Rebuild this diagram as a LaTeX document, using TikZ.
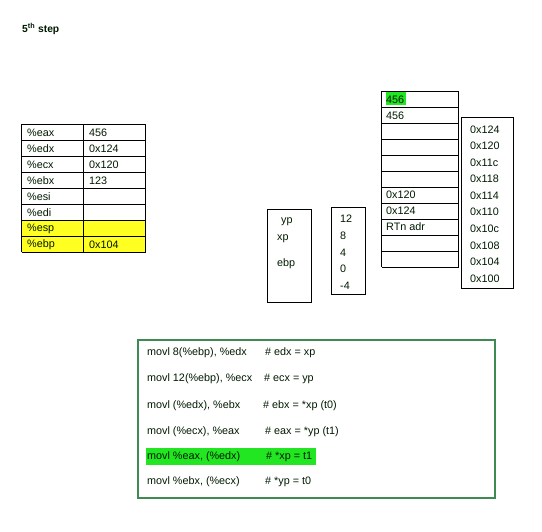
\documentclass[tikz,border=0pt]{standalone}
\usepackage{fontspec}
\setmainfont{Liberation Sans}
\begin{document}
\begin{tikzpicture}[x=1pt,y=-1pt,
  txt/.style={anchor=west,inner sep=0pt,font=\fontsize{10.8}{12}\selectfont,text=black!90!green},
  grid/.style={draw=black,line width=0.8pt},
  codebox/.style={draw=codegreen,line width=2pt}]
\definecolor{codegreen}{HTML}{3E8A52}
\definecolor{hlgreen}{HTML}{22E622}
\definecolor{hlyellow}{HTML}{FFFF22}
\useasboundingbox (0,0) rectangle (542,532);
% title
\node[txt,font=\fontsize{10.3}{12}\selectfont\bfseries] (title) at (22,29) {5\textsuperscript{th} step};
% register table
\fill[hlyellow] (21.5,220.5) rectangle (145.5,252.5);
\foreach \i in {0,...,8} \draw[grid] (21.5,124.5+16*\i) -- (145.5,124.5+16*\i);
\draw[grid] (21.5,124.5) -- (21.5,252.5);
\draw[grid] (83.5,124.5) -- (83.5,252.5);
\draw[grid] (145.5,124.5) -- (145.5,252.5);
\foreach \n/\r/\v [count=\i from 0] in {eax/\%eax/456,edx/\%edx/0x124,ecx/\%ecx/0x120,ebx/\%ebx/123,esi/\%esi/,edi/\%edi/,esp/\%esp/,ebp/\%ebp/0x104}{
  \node[txt] (r-\n) at (27,132.5+16*\i) {\r};
  \node[txt] (v-\n) at (89,132.5+16*\i) {\v};
}
% yp/xp/ebp box
\draw[grid] (267.5,209.5) rectangle (311.5,302.5);
\node[txt] (yp) at (281,222) {yp};
\node[txt] (xp) at (277,239) {xp};
\node[txt] (ebp) at (277,264) {ebp};
% offsets box
\draw[grid] (331.5,207.5) rectangle (365.5,294.5);
\node[txt] (o12) at (340,219) {12};
\node[txt] (o8) at (340,236) {8};
\node[txt] (o4) at (340,253) {4};
\node[txt] (o0) at (340,269) {0};
\node[txt] (om4) at (340,286) {-4};
% memory stack
\fill[hlgreen] (386,92.5) rectangle (406,105.5);
\foreach \i in {0,...,11} \draw[grid] (381.5,91.5+16*\i) -- (458.5,91.5+16*\i);
\draw[grid] (381.5,91.5) -- (381.5,267.5);
\draw[grid] (458.5,91.5) -- (458.5,267.5);
\node[txt] (m0) at (386,99.5) {456};
\node[txt] (m1) at (386,115.5) {456};
\node[txt] (m6) at (386,195) {0x120};
\node[txt] (m7) at (386,211) {0x124};
\node[txt] (m8) at (386,227) {RTn adr};
% address box
\draw[grid] (461.5,117.5) rectangle (513.5,288.5);
\foreach \a [count=\i from 0] in {0x124,0x120,0x11c,0x118,0x114,0x110,0x10c,0x108,0x104,0x100}
  \node[txt] (a\i) at (470,129.5+16.55*\i) {\a};
% code box
\draw[codebox] (138,340.5) rectangle (494.5,498.5);
\fill[hlgreen] (146,448) rectangle (316,465);
\node[txt] (c1) at (147,353) {movl 8(\%ebp), \%edx};
\node[txt] (k1) at (265,353) {\# edx = xp};
\node[txt] (c2) at (147,379) {movl 12(\%ebp), \%ecx};
\node[txt] (k2) at (264,379) {\# ecx = yp};
\node[txt] (c3) at (147,406) {movl (\%edx), \%ebx};
\node[txt] (k3) at (263,406) {\# ebx = *xp (t0)};
\node[txt] (c4) at (147,432) {movl (\%ecx), \%eax};
\node[txt] (k4) at (265,432) {\# eax = *yp (t1)};
\node[txt] (c5) at (147,457) {movl \%eax, (\%edx)};
\node[txt] (k5) at (266,457) {\# *xp = t1};
\node[txt] (c6) at (147,482) {movl \%ebx, (\%ecx)};
\node[txt] (k6) at (265,482) {\# *yp = t0};
\end{tikzpicture}
\end{document}
